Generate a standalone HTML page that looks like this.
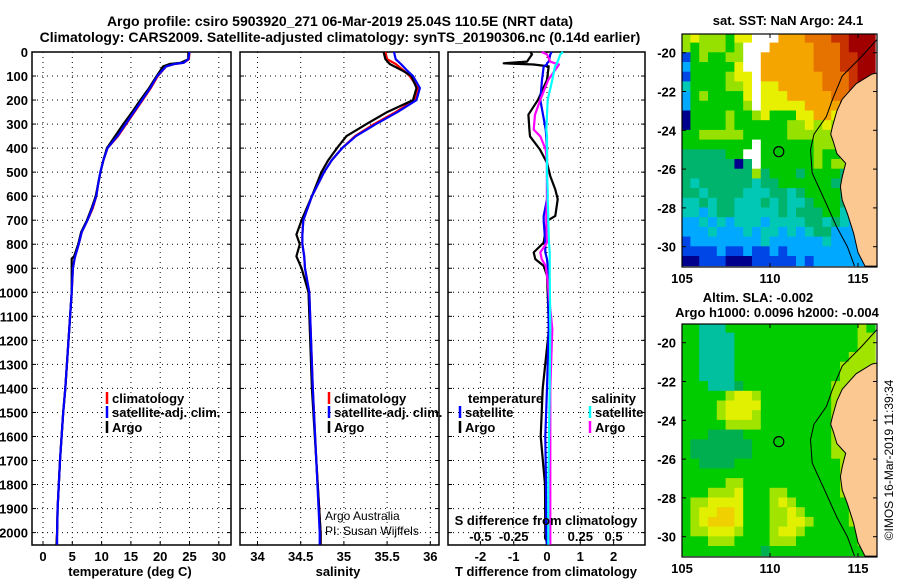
<!DOCTYPE html>
<html><head><meta charset="utf-8"><style>
html,body{margin:0;padding:0;background:#fff;}
svg{display:block;font-family:"Liberation Sans",sans-serif;}
.b{font-weight:bold;font-size:13px;}
</style></head><body>
<svg id="c" width="900" height="580" viewBox="0 0 900 580" xmlns="http://www.w3.org/2000/svg">
<text x="340" y="26" text-anchor="middle" font-size="14" font-weight="bold">Argo profile: csiro 5903920_271 06-Mar-2019 25.04S 110.5E (NRT data)</text>
<text x="340" y="42" text-anchor="middle" font-size="14" font-weight="bold">Climatology: CARS2009. Satellite-adjusted climatology: synTS_20190306.nc (0.14d earlier)</text>
<g id="g1"></g>
<g id="g2"></g>
<g id="g3"></g>
<g id="m1"></g>
<g id="m2"></g>
<text x="130" y="576" text-anchor="middle" class="b">temperature (deg C)</text>
<text x="338" y="576" text-anchor="middle" class="b">salinity</text>
<text x="546" y="576" text-anchor="middle" class="b">T difference from climatology</text>
<text x="546" y="525" text-anchor="middle" class="b">S difference from climatology</text>
<text x="325" y="520" font-size="12">Argo Australia</text>
<text x="325" y="535" font-size="12">PI: Susan Wijffels</text>
<text x="788" y="25" text-anchor="middle" class="b">sat. SST: NaN Argo: 24.1</text>
<text x="758" y="302" text-anchor="middle" class="b">Altim. SLA: -0.002</text>
<text x="777" y="317" text-anchor="middle" class="b">Argo h1000: 0.0096 h2000: -0.004</text>
<text transform="translate(893,460) rotate(-90)" text-anchor="middle" font-size="12">©IMOS 16-Mar-2019 11:39:34</text>
</svg>
<script>
// ---- profile data ----
const depthA=[0,30,45,50,60,100,150,200,250,300,350,400,450,500,550,600,650,700,750,800,850,860,900,1000,1400,1500,1700,1900,2000,2050];
const tempArgo=[24.8,24.8,23.5,21.6,20.5,19.4,18.1,16.6,15.2,13.7,12.3,10.9,10.3,9.8,9.4,9.0,8.3,7.5,6.5,6.0,5.3,4.9,4.9,4.9,3.8,3.45,2.9,2.5,2.4,2.3];
const tempClim=[25.0,24.9,24.0,22.5,21.0,19.6,18.4,17.0,15.6,14.2,12.8,11.0,10.3,9.8,9.4,9.1,8.5,7.6,6.6,6.1,5.5,5.4,5.1,4.9,3.8,3.45,2.9,2.5,2.4,2.3];
const tempSat=[25.0,24.8,24.0,22.4,21.0,19.5,18.3,16.9,15.5,14.1,12.7,11.0,10.3,9.8,9.4,9.1,8.4,7.6,6.6,6.1,5.5,5.4,5.1,4.9,3.8,3.45,2.9,2.5,2.4,2.4];
const depthS=[0,30,50,80,100,150,200,250,300,350,400,450,500,600,700,760,800,850,900,1000,1400,1700,2000,2050];
const salArgo=[35.46,35.48,35.53,35.69,35.78,35.84,35.80,35.50,35.26,35.03,34.92,34.82,34.74,34.63,34.51,34.45,34.49,34.45,34.51,34.59,34.63,34.68,34.73,34.73];
const salClim=[35.48,35.50,35.60,35.70,35.76,35.86,35.82,35.60,35.35,35.13,34.98,34.86,34.77,34.63,34.53,34.52,34.52,34.54,34.55,34.60,34.64,34.68,34.73,34.73];
const salSat=[35.58,35.60,35.66,35.74,35.80,35.88,35.84,35.62,35.37,35.14,34.98,34.86,34.77,34.63,34.53,34.52,34.52,34.54,34.55,34.60,34.64,34.68,34.72,34.72];
const depthD=[0,10,40,47,52,60,116,199,261,323,351,406,461,517,572,613,682,703,793,834,862,890,931,1152,1400,1600,1800,2000,2050];
const dTArgo=[-0.5,-0.45,-0.6,-1.3,-0.4,0.05,0.0,-0.27,-0.56,-0.53,-0.51,-0.21,0.0,0.1,0.25,0.32,0.25,0.0,-0.1,-0.4,-0.35,-0.1,0.0,0.06,-0.13,-0.19,-0.06,-0.05,0.0];
const dTSat=[0.14,0.1,0.05,0.0,0.0,-0.1,-0.15,-0.2,-0.12,-0.04,-0.02,0.0,0.0,0.0,0.0,0.0,-0.1,-0.1,-0.05,-0.05,0.0,0.02,0.03,0.05,0.0,-0.05,-0.03,-0.02,0.0];
const dSSat=[0.12,0.1,0.08,0.075,0.07,0.06,0.04,0.005,0.0,-0.005,0.0,0.0,0.0,0.0,0.005,0.005,0.01,0.01,0.015,0.02,0.02,0.02,0.02,0.025,0.02,0.015,0.01,0.01,0.01];
const dSArgo=[-0.04,0.0,0.025,0.06,0.09,0.08,0.01,-0.05,-0.09,-0.1,-0.05,-0.01,0.0,0.0,0.0,0.0,-0.005,-0.005,0.0,-0.05,-0.04,-0.01,0.0,0.04,0.025,0.025,0.025,0.025,0.025];
const depthTicks=[0,100,200,300,400,500,600,700,800,900,1000,1100,1200,1300,1400,1500,1600,1700,1800,1900,2000];
const tTicks=[0,5,10,15,20,25,30];
const sTicks=[34,34.5,35,35.5,36];
const sTickLabels=["34","34.5","35","35.5","36"];
const dTTicks=[-2,-1,0,1,2];
const dSTicks=[-0.5,-0.25,0,0.25,0.5];
const dSTickLabels=["-0.5","-0.25","0","0.25","0.5"];
// ---- map data (0.5 deg cells, lon 105..116, lat -19..-31), groups: 6+2+2+3+3+2+4 ----
const sstRows=[
"676665 77 WW W88 899 9a abbb","656665 6W WW 888 889 99 abbb","156556 6W W8 888 889 99 aabb","255555 7W W8 888 889 99 aabb",
"155556 77 W8 888 888 99 9abb","355556 67 W7 788 888 99 9abb","256555 57 W7 778 888 89 9aab","255555 56 W7 777 788 88 aabb",
"055556 55 67 555 778 87 7bbb","055556 55 55 556 676 76 6bbb","556666 65 55 556 666 66 6bbb","555555 55 W5 555 556 66 6bbb",
"444445 5W W5 555 556 55 6bbb","444444 04 W5 555 556 56 6bbb","444444 44 64 555 455 55 46bb","434444 44 34 455 555 54 44bb",
"443444 43 33 443 455 55 44bb","334344 33 34 343 345 55 43bb","332344 33 33 343 444 55 322b","223232 33 32 333 344 34 322b",
"222322 23 23 323 234 42 222b","122222 22 23 222 222 32 222b","111121 12 11 212 222 22 222b","001110 00 11 111 212 22 222b"].map(s=>s.replace(/ /g,''));
const slaRows=[
"5533355555555555555565","5533335555555555555566","5533335555555555555566","5533335555555555555666",
"5533335555555555556666","5533335555555555556665","5553334555555555566555","5555567765555555566555",
"5555677775555555566555","5555677765555555566555","5555566665555555566555","5554444555555555566555",
"5444444455555555566555","5444444455555555566555","5544445555555555556655","5555555555555555556655",
"5555566555555555556665","5556667555665555556665","5667777555676555555665","5677887555667655555665",
"5678887555667765555665","5667776555677655555566","5556665555666555555566","5555555554555555555556"];
const coastLon=[116.1,115.8,114.9,114.4,114.1,113.8,113.55,113.45,113.6,113.8,114.3,114.1,114.0,114.1,114.4,114.75,115.0,115.4,116.1];
const coastLat=[-21.05,-21.1,-21.6,-22.1,-22.4,-23.0,-23.8,-24.2,-24.6,-25.2,-25.7,-26.4,-26.9,-27.6,-28.3,-29.3,-30.3,-31.0,-31.0];
const isoLon=[116.1,115.2,114.1,113.55,113.2,112.5,112.3,112.4,113.1,113.8,114.4,114.8];
const isoLat=[-19.3,-20.2,-21.2,-22.4,-23.3,-24.2,-25.0,-26.2,-27.6,-29.0,-30.0,-31.0];
const floatLon=110.5, floatLat=-25.1;
const lonTicks=[105,110,115];
const latTicks=[-20,-22,-24,-26,-28,-30];

const NS='http://www.w3.org/2000/svg';
function el(parent,tag,attrs,txt){const e=document.createElementNS(NS,tag);for(const k in attrs)e.setAttribute(k,attrs[k]);if(txt!==undefined)e.textContent=txt;parent.appendChild(e);return e;}
const Y0=52,YB=545,PPM=0.2403;
const yD=d=>Y0+d*PPM;
function panel(g,x0,x1,xs,xticks,xlabels,showY,name){
  depthTicks.forEach(d=>{const y=yD(d);
    if(d>0){const l=el(g,'line',{x1:x0,x2:x1,y1:y,y2:y,stroke:'#000','stroke-width':1,'stroke-dasharray':'1,4'});
    }
    el(g,'line',{x1:x0,x2:x0+4,y1:y,y2:y,stroke:'#000'});el(g,'line',{x1:x1-4,x2:x1,y1:y,y2:y,stroke:'#000'});
    if(showY){const t=el(g,'text',{x:28,y:y+5,'text-anchor':'end',class:'b'},String(d));
    }
  });
  xticks.forEach((v,i)=>{const x=xs(v);
    const l=el(g,'line',{x1:x,x2:x,y1:Y0,y2:YB,stroke:'#000','stroke-dasharray':'1,4'});
    
    el(g,'line',{x1:x,x2:x,y1:YB-4,y2:YB,stroke:'#000'});
    const t=el(g,'text',{x:x,y:561,'text-anchor':'middle',class:'b'},xlabels[i]);
    
  });
  const r=el(g,'rect',{x:x0,y:Y0,width:x1-x0,height:YB-Y0,fill:'none',stroke:'#000','stroke-width':1.5});
  
}
function line(g,xs,vals,depths,color,nm){
  const pts=vals.map((v,i)=>xs(v).toFixed(1)+','+yD(depths[i]).toFixed(1)).join(' ');
  const p=el(g,'polyline',{points:pts,fill:'none',stroke:color,'stroke-width':2.2,'stroke-linejoin':'round'});
  
}
function legend(g,x,y,color,label,nm){
  el(g,'line',{x1:x,x2:x,y1:y-11,y2:y+1,stroke:color,'stroke-width':2.5});
  const t=el(g,'text',{x:x+5,y:y,class:'b'},label);
  
}
// Panel 1
const g1=document.getElementById('g1');
const xT=v=>43+v*5.86;
panel(g1,32,231,xT,tTicks,tTicks.map(String),true,'temperature');
line(g1,xT,tempClim,depthA,'#f00','climatology-temperature-line');
line(g1,xT,tempArgo,depthA,'#000','argo-temperature-line');
line(g1,xT,tempSat,depthA,'#00f','satellite-temperature-line');
legend(g1,107,403,'#f00','climatology','legend-climatology');
legend(g1,107,417,'#00f','satellite-adj. clim.','legend-satellite');
legend(g1,107,432,'#000','Argo','legend-argo');
// Panel 2
const g2=document.getElementById('g2');
const xS=v=>257.5+(v-34)*86.4;
panel(g2,240,439,xS,sTicks,sTickLabels,false,'salinity');
line(g2,xS,salClim,depthS,'#f00','climatology-salinity-line');
line(g2,xS,salArgo,depthS,'#000','argo-salinity-line');
line(g2,xS,salSat,depthS,'#00f','satellite-salinity-line');
legend(g2,329,403,'#f00','climatology','legend-climatology-sal');
legend(g2,329,417,'#00f','satellite-adj. clim.','legend-satellite-sal');
legend(g2,329,432,'#000','Argo','legend-argo-sal');
// Panel 3
const g3=document.getElementById('g3');
const xD=v=>547+v*33.3;
const xDS=v=>547+v*4*33.3;
panel(g3,448,645,xD,dTTicks,dTTicks.map(String),false,'t-difference');
dSTicks.forEach((v,i)=>{const t=el(g3,'text',{x:xDS(v),y:541,'text-anchor':'middle',class:'b'},dSTickLabels[i]);
  });
line(g3,xD,dTArgo,depthD,'#000','argo-t-difference-line');
line(g3,xD,dTSat,depthD,'#00f','satellite-t-difference-line');
line(g3,xDS,dSArgo,depthD,'#f0f','argo-s-difference-line');
line(g3,xDS,dSSat,depthD,'#0ff','satellite-s-difference-line');
el(g3,'text',{x:468,y:403,class:'b'},'temperature');
el(g3,'text',{x:636,y:403,'text-anchor':'end',class:'b'},'salinity');
legend(g3,460,417,'#00f','satellite','legend-t-satellite');
legend(g3,460,432,'#000','Argo','legend-t-argo');
legend(g3,590,417,'#0ff','satellite','legend-s-satellite');
legend(g3,590,432,'#f0f','Argo','legend-s-argo');
// Maps
const pal={'0':'#00008c','1':'#0046e6','2':'#00a8ff','3':'#00c8b4','4':'#00b46e','5':'#00c800','6':'#96e100','7':'#e6f000','8':'#f5a500','9':'#e67300','a':'#c83200','b':'#a00000','W':'#ffffff'};
const palSla={'3':'#00c0a0','4':'#00b050','5':'#00cc00','6':'#a0e400','7':'#e0f000','8':'#f0d000'};
function map(id,top,rows,p,nm){
  const g=document.getElementById(id);
  const L=682,R=877,T=top,B=top+233;
  const xL=lon=>L+(lon-105)*17.6;
  const yL=lat=>T+18.7+(-20-lat)*19.4;
  const cid='clip'+id;const cp=el(g,'clipPath',{id:cid});el(cp,'rect',{x:L,y:T,width:R-L,height:B-T});
  const cg=el(g,'g',{'clip-path':'url(#'+cid+')'});
  rows.forEach((row,r)=>{for(let c=0;c<row.length;c++){
    const lon=105+c*0.5, lat=-19-r*0.5;
    const cell=el(cg,'rect',{x:xL(lon-0.02).toFixed(1),y:yL(lat+0.02).toFixed(1),width:9.3,height:10.2,fill:p[row[c]]||'#00c800'});
    
  }});
  const land=el(cg,'polygon',{points:coastLon.map((v,i)=>xL(v).toFixed(1)+','+yL(coastLat[i]).toFixed(1)).join(' ')+' '+(R+5)+','+(B+5)+' '+(R+5)+','+yL(-21.05),fill:'#fcc891',stroke:'#000','stroke-width':1});
  
  const iso=el(cg,'polyline',{points:isoLon.map((v,i)=>xL(v).toFixed(1)+','+yL(isoLat[i]).toFixed(1)).join(' '),fill:'none',stroke:'#000','stroke-width':1});
  
  const fc=el(g,'circle',{cx:xL(floatLon),cy:yL(floatLat),r:5,fill:'none',stroke:'#000','stroke-width':1.2});
  
  el(g,'rect',{x:L,y:T,width:R-L,height:B-T,fill:'none',stroke:'#000','stroke-width':1.2});
  lonTicks.forEach(v=>{const x=xL(v);el(g,'line',{x1:x,x2:x,y1:B,y2:B-4,stroke:'#000'});el(g,'line',{x1:x,x2:x,y1:T,y2:T+4,stroke:'#000'});
    const t=el(g,'text',{x:x,y:B+16,'text-anchor':'middle',class:'b','font-size':14},String(v));
    });
  latTicks.forEach(v=>{const y=yL(v);el(g,'line',{x1:L,x2:L+4,y1:y,y2:y,stroke:'#000'});el(g,'line',{x1:R-4,x2:R,y1:y,y2:y,stroke:'#000'});
    const t=el(g,'text',{x:676,y:y+5,'text-anchor':'end',class:'b'},String(v));
    });
}
map('m1',34,sstRows,pal,'sst');
map('m2',324,slaRows,palSla,'sla');
</script>
</body></html>
